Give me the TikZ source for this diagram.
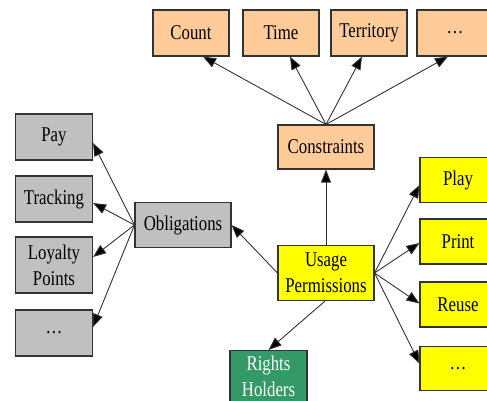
\documentclass[tikz,border=0pt]{standalone}
\usepackage{fontspec}
\setmainfont[FakeStretch=0.8]{Liberation Serif}
\usetikzlibrary{arrows.meta,calc}
\definecolor{peach}{HTML}{FFCC99}
\definecolor{silver}{HTML}{C0C0C0}
\definecolor{lemon}{HTML}{FFFF00}
\definecolor{seagreen}{HTML}{339966}
\definecolor{edgecol}{HTML}{333333}

\begin{document}
\begin{tikzpicture}[x=1pt,y=-1pt,
  box/.style={draw=edgecol, line width=1.1pt, minimum width=76pt, minimum height=46pt,
    inner sep=0pt, align=center, font=\fontsize{21}{26}\selectfont},
  constr/.style={box, fill=peach},
  oblig/.style={box, fill=silver},
  perm/.style={box, fill=lemon},
  holder/.style={box, fill=seagreen, text=white},
  link/.style={draw=edgecol, line width=0.9pt, -{Triangle[length=13pt,width=10pt,fill=black]}}
]
\useasboundingbox (0,0) rectangle (487,400);

\begin{scope}
  \clip (0,0) rectangle (487,400);
  % constraint kinds
  \node[constr] (count) at (191,33) {Count};
  \node[constr] (time) at (281,33) {Time};
  \node[constr] (territory) at (369,33) {Territory};
  \node[constr] (cmore) at (455,33) {\dots};
  \node[constr, minimum width=96pt, minimum height=44pt] (constraints) at (326,147) {Constraints};
  % central node
  \node[perm, minimum width=96pt, minimum height=55pt] (usage) at (326,273) {Usage\\Permissions};
  % obligations
  \node[oblig, minimum width=96pt, minimum height=45pt] (obl) at (183,225) {Obligations};
  \node[oblig, minimum width=77pt] (pay) at (54,137) {Pay};
  \node[oblig, minimum width=77pt] (tracking) at (54,199) {Tracking};
  \node[oblig, minimum width=77pt, minimum height=56pt] (loyalty) at (54,265) {Loyalty\\Points};
  \node[oblig, minimum width=77pt] (omore) at (54,333) {\dots};
  % permissions
  \node[perm, minimum height=45pt] (play) at (458,180) {Play};
  \node[perm, minimum height=45pt] (print) at (458,241.5) {Print};
  \node[perm, minimum height=45pt] (reuse) at (458,304.5) {Reuse};
  \node[perm, minimum height=44pt] (pmore) at (458,368.5) {\dots};
  % rights holders, running off the lower edge
  \node[holder, minimum width=77pt, minimum height=55pt] (rights) at (268.5,378) {};
  \node[text=white, font=\fontsize{21}{26}\selectfont, align=center, inner sep=0pt]
    (rightstext) at (268.5,376.5) {Rights\\Holders};
\end{scope}

% constraints to their kinds
\draw[link] (constraints.north) -- ($(count.south)+(12,0)$);
\draw[link] (constraints.north) -- ($(time.south)+(9,0)$);
\draw[link] (constraints.north) -- ($(territory.south)+(-7,0)$);
\draw[link] (constraints.north) -- ($(cmore.south)+(-7,0)$);

% usage permissions
\draw[link] (usage.north) -- (constraints.south);
\draw[link] (usage.west) -- (obl.east);
\draw[link] ($(usage.south)+(-1,0)$) -- (rights.north);
\draw[link] (usage.east) -- ($(play.west)+(0,5)$);
\draw[link] (usage.east) -- ($(print.west)+(0,1.5)$);
\draw[link] (usage.east) -- ($(reuse.west)+(0,-1)$);
\draw[link] (usage.east) -- ($(pmore.west)+(0,-5)$);

% obligations
\draw[link] (obl.west) -- ($(pay.east)+(0,6)$);
\draw[link] (obl.west) -- ($(tracking.east)+(0,4)$);
\draw[link] (obl.west) -- ($(loyalty.east)+(0,-8)$);
\draw[link] (obl.west) -- ($(omore.east)+(0,-6)$);
\end{tikzpicture}
\end{document}
